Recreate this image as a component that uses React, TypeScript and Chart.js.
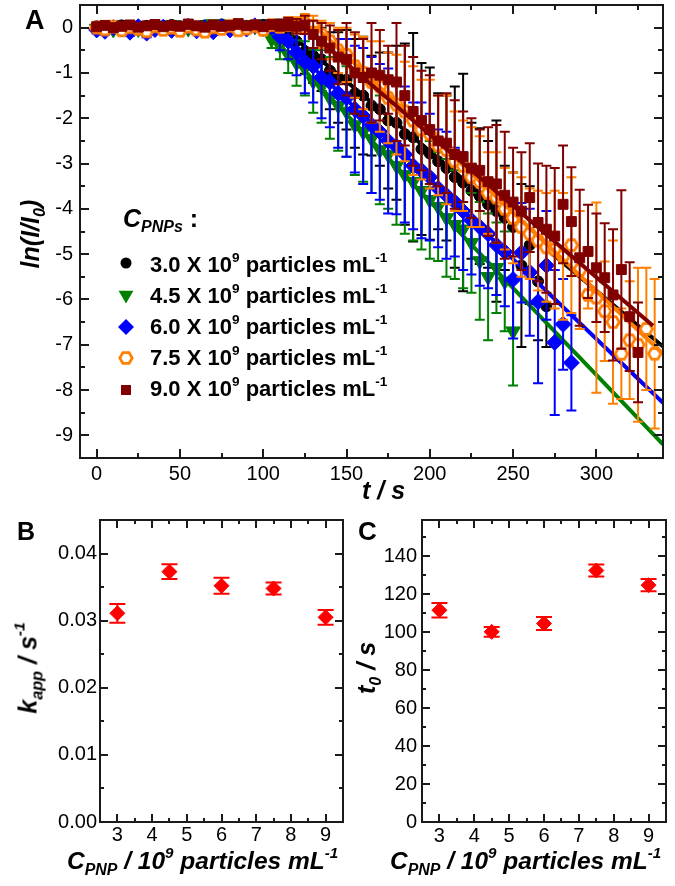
import React, { useEffect, useRef } from 'react';
import { Chart, registerables } from 'chart.js';
Chart.register(...registerables);

const FONT = "'Liberation Sans', Arial, Helvetica, sans-serif";

// ---------- Panel A data ----------
const times = [0,5,10,15,20,25,30,35,40,45,50,55,60,65,70,75,80,85,90,95,100,105,110,115,120,125,130,135,140,145,150,155,160,165,170,175,180,185,190,195,200,205,210,215,220,225,230,235,240,245,250,255,260,265,270,275,280,285,290,295,300,305,310,315,320,325,330,335];

const seriesNames = ['3.0', '4.5', '6.0', '7.5', '9.0'];
const seriesColors = ['#000000', '#008000', '#0000ff', '#ff8000', '#800000'];

const v30 = [0.03,-0.02,0.01,0.05,0.00,-0.03,0.04,0.02,-0.01,0.06,0.03,0.00,-0.02,0.05,0.01,0.07,0.03,-0.01,0.04,0.02,0.06,0.01,0.03,
  -0.10,-0.30,-0.52,-0.62,-0.70,-0.95,-1.10,-1.15,-1.45,-1.50,-1.72,-1.80,-2.05,-2.10,-2.35,-2.42,-2.68,-2.78,-2.95,-3.10,
  -3.30,-3.42,-3.60,-3.72,-3.90,-4.05,-4.20,-4.40,-5.25,-4.80,-5.60,-6.15];
const e30 = [0.08,0.06,0.07,0.09,0.06,0.08,0.07,0.06,0.09,0.08,0.07,0.06,0.08,0.09,0.07,0.08,0.06,0.09,0.08,0.07,0.1,0.12,0.15,
  0.25,0.35,0.5,0.6,0.7,0.85,1.0,1.1,1.2,1.3,1.1,1.25,1.5,1.7,2.0,2.3,1.9,1.9,1.5,1.6,
  2.0,2.4,1.5,1.5,1.4,2.0,1.15,1.2,1.8,1.3,1.3,0.9];

const v45 = [-0.02,0.01,-0.04,0.00,0.03,-0.03,0.02,-0.01,0.04,0.06,0.02,-0.02,0.05,0.03,0.08,0.04,0.06,0.02,0.05,0.03,0.01,
  -0.25,-0.40,-0.60,-0.78,-0.90,-1.18,-1.30,-1.55,-1.72,-1.85,-2.15,-2.30,-2.45,-2.70,-2.80,-3.05,-3.25,-3.40,-3.60,-3.80,
  -3.95,-4.20,-4.35,-4.45,-4.75,-5.15,-5.50,-5.30,-5.60,-6.70];
const e45 = [0.07,0.08,0.06,0.09,0.07,0.08,0.06,0.07,0.09,0.08,0.07,0.08,0.06,0.09,0.07,0.08,0.07,0.09,0.08,0.1,0.12,
  0.2,0.3,0.4,0.5,0.6,0.7,0.8,0.9,1.0,1.0,1.1,1.1,1.2,1.2,1.2,1.3,1.3,1.3,1.3,1.3,
  1.2,1.3,1.2,1.3,1.1,1.3,1.4,1.0,1.1,1.2];

const v60 = [-0.05,-0.08,0.00,-0.03,-0.10,0.02,-0.12,-0.04,0.01,-0.06,-0.02,0.03,-0.07,-0.01,-0.09,0.02,-0.05,0.00,-0.03,0.04,-0.02,0.01,
  -0.20,-0.30,-0.55,-0.75,-0.85,-1.10,-1.20,-1.45,-1.55,-1.80,-1.95,-2.15,-2.30,-2.50,-2.62,-2.80,-3.05,-3.15,-3.30,-3.55,
  -3.70,-3.85,-4.05,-4.25,-4.40,-4.55,-4.80,-4.95,-5.56,-4.97,-5.40,-6.05,-5.25,-6.95,-6.55,-7.40];
const e60 = [0.08,0.07,0.09,0.06,0.08,0.07,0.09,0.08,0.06,0.07,0.08,0.09,0.07,0.08,0.06,0.09,0.07,0.08,0.09,0.07,0.1,0.12,
  0.3,0.4,0.5,0.7,0.8,0.9,1.0,1.2,1.3,1.4,1.5,1.5,1.5,1.6,1.5,1.5,1.4,1.5,1.4,1.3,
  1.4,1.2,1.3,1.2,1.3,1.2,1.1,1.2,1.3,1.1,1.4,1.8,1.2,1.6,1.0,1.05];

const v75 = [0.00,-0.04,0.02,-0.06,0.01,-0.03,-0.08,0.03,-0.05,0.00,-0.07,0.02,-0.04,-0.09,0.01,-0.03,0.04,-0.06,-0.02,0.03,-0.05,0.06,0.02,0.08,0.05,0.10,0.04,
  -0.15,-0.30,-0.50,-0.60,-0.85,-1.00,-1.20,-1.30,-1.55,-1.70,-1.85,-2.05,-2.25,-2.35,-2.60,-2.70,-2.95,-3.05,-3.30,-3.40,
  -3.65,-3.75,-4.00,-4.20,-4.40,-4.55,-4.70,-4.85,-4.90,-5.05,-4.80,-5.35,-5.90,-5.96,-6.26,-6.50,-7.20,-6.90,-7.00,-6.65,-7.20];
const e75 = [0.07,0.08,0.06,0.09,0.07,0.08,0.1,0.06,0.08,0.07,0.09,0.06,0.08,0.1,0.07,0.08,0.09,0.07,0.08,0.06,0.09,0.1,0.12,0.15,0.18,0.2,0.22,
  0.3,0.4,0.5,0.6,0.7,0.8,0.9,1.0,1.0,1.1,1.1,1.2,1.1,1.2,1.1,1.2,1.1,1.0,1.1,1.0,
  0.9,1.0,0.9,1.0,1.1,1.0,1.1,1.2,1.3,1.4,1.5,1.3,0.3,2.1,1.1,1.8,1.0,1.3,1.7,1.35,1.65];

const v90 = [0.02,0.05,0.00,0.03,0.06,0.01,0.04,0.07,0.02,0.05,0.03,0.08,0.04,0.01,0.06,0.03,0.05,0.09,0.04,0.06,0.02,0.07,0.05,0.08,0.03,0.06,
  -0.15,-0.30,-0.45,-0.65,-0.70,-1.00,-1.10,-1.00,-1.05,-1.15,-1.20,-1.50,-1.85,-2.05,-2.25,-2.50,-2.55,-2.80,-2.85,-3.10,
  -3.15,-3.40,-3.45,-3.70,-3.85,-4.05,-3.75,-4.30,-4.45,-4.60,-3.90,-4.28,-5.08,-4.94,-5.30,-5.52,-5.90,-5.34,-6.38,-7.17];
const e90 = [0.06,0.08,0.07,0.09,0.06,0.08,0.07,0.09,0.06,0.08,0.07,0.09,0.08,0.06,0.07,0.09,0.08,0.07,0.06,0.09,0.08,0.1,0.12,0.14,0.16,0.2,
  0.3,0.4,0.5,0.6,0.8,0.9,0.85,1.1,1.0,0.75,1.3,1.1,1.2,1.1,1.2,1.0,1.1,1.2,1.0,1.1,
  0.9,1.2,1.3,1.4,1.2,1.3,1.2,1.3,1.4,1.5,1.3,1.2,1.5,1.03,1.2,1.2,1.45,1.75,1.2,1.1];

const seriesValues = [v30, v45, v60, v75, v90];
const seriesErrors = [e30, e45, e60, e75, e90];

// fitted lines: flat at 0 until t0, then linear down to end point
const fitStartT = [111.5, 100, 105, 132, 125];
const fitEndT = [340, 340, 340, 340, 334];
const fitEndY = [-7.04, -9.2, -8.28, -7.2, -6.58];

const xTicksA = [0, 50, 100, 150, 200, 250, 300];
const xMinorA = [25, 75, 125, 175, 225, 275, 325];
const yTicksA = [0, -1, -2, -3, -4, -5, -6, -7, -8, -9];
const yMinorA = [-0.5, -1.5, -2.5, -3.5, -4.5, -5.5, -6.5, -7.5, -8.5];

// ---------- Panels B and C data ----------
const conc = [3, 4.5, 6, 7.5, 9];
const kapp = [0.0311, 0.0373, 0.0352, 0.0348, 0.0305];
const kappErr = [0.0014, 0.0011, 0.0012, 0.0009, 0.0011];
const t0 = [111.5, 100.1, 104.5, 132.4, 124.7];
const t0Err = [3.8, 2.6, 3.4, 3.2, 3.2];

const xTicksBC = [3, 4, 5, 6, 7, 8, 9];
const xMinorBC = [3.5, 4.5, 5.5, 6.5, 7.5, 8.5];
const yTicksB = [0, 0.01, 0.02, 0.03, 0.04];
const yMinorB = [0.005, 0.015, 0.025, 0.035];
const yTicksC = [0, 20, 40, 60, 80, 100, 120, 140];
const yMinorC = [10, 30, 50, 70, 90, 110, 130, 150];

// ---------- plugins ----------
const errorBarPlugin = {
  id: 'errbars',
  beforeDatasetDraw(chart: any, args: any) {
    const ds: any = chart.data.datasets[args.index];
    if (!ds.errors) return;
    const ys = chart.scales.y;
    const ctx = chart.ctx;
    const a = chart.chartArea;
    ctx.save();
    ctx.beginPath();
    ctx.rect(a.left, a.top, a.right - a.left, a.bottom - a.top);
    ctx.clip();
    ctx.strokeStyle = ds.errColor;
    ctx.lineWidth = ds.errWidth;
    const cap = ds.errCap;
    args.meta.data.forEach((pt: any, i: number) => {
      const v = ds.data[i].y;
      const e = ds.errors[i];
      const x = pt.x;
      const y1 = ys.getPixelForValue(v + e);
      const y2 = ys.getPixelForValue(v - e);
      ctx.beginPath();
      ctx.moveTo(x, y1); ctx.lineTo(x, y2);
      ctx.moveTo(x - cap, y1); ctx.lineTo(x + cap, y1);
      ctx.moveTo(x - cap, y2); ctx.lineTo(x + cap, y2);
      ctx.stroke();
    });
    ctx.restore();
  },
};

const framePlugin = {
  id: 'frame',
  afterDatasetsDraw(chart: any, _args: any, o: any) {
    const { ctx, chartArea: a } = chart;
    const xs = chart.scales.x, ys = chart.scales.y;
    ctx.save();
    ctx.strokeStyle = o.color;
    ctx.lineWidth = o.width;
    ctx.strokeRect(a.left, a.top, a.right - a.left, a.bottom - a.top);
    ctx.beginPath();
    const xt = (vals: number[], len: number) => vals.forEach((v) => {
      const p = Math.round(xs.getPixelForValue(v));
      ctx.moveTo(p, a.bottom); ctx.lineTo(p, a.bottom - len);
      ctx.moveTo(p, a.top); ctx.lineTo(p, a.top + len);
    });
    const yt = (vals: number[], len: number) => vals.forEach((v) => {
      const p = Math.round(ys.getPixelForValue(v));
      ctx.moveTo(a.left, p); ctx.lineTo(a.left + len, p);
      ctx.moveTo(a.right, p); ctx.lineTo(a.right - len, p);
    });
    xt(o.xMajor, o.majorLen); xt(o.xMinor, o.minorLen);
    yt(o.yMajor, o.majorLen); yt(o.yMinor, o.minorLen);
    ctx.stroke();
    ctx.restore();
  },
};

function makeHexagon(color: string) {
  const c = document.createElement('canvas');
  c.width = 18; c.height = 18;
  const g = c.getContext('2d')!;
  g.beginPath();
  for (let k = 0; k < 6; k++) {
    const ang = (Math.PI / 3) * k;
    const px = 9 + 6.2 * Math.cos(ang), py = 9 + 6.2 * Math.sin(ang);
    if (k === 0) g.moveTo(px, py); else g.lineTo(px, py);
  }
  g.closePath();
  g.fillStyle = '#ffffff';
  g.fill();
  g.strokeStyle = color;
  g.lineWidth = 2.8;
  g.stroke();
  return c;
}

function scaleCommon(min: number, max: number, ticks: number[], pad: number, fmt: (v: number) => string, fit: (s: any) => void) {
  return {
    type: 'linear', min, max,
    grid: { display: false, drawTicks: false },
    border: { display: false },
    afterBuildTicks: (s: any) => { s.ticks = ticks.map((v) => ({ value: v })); },
    ticks: { font: { family: FONT, size: 20 }, color: '#000', padding: pad, maxRotation: 0, autoSkip: false, callback: (v: any) => fmt(Number(v)) },
    afterFit: (s: any) => { fit(s); s.paddingTop = 0; s.paddingBottom = 0; s.paddingLeft = 0; s.paddingRight = 0; },
  };
}

function configA(): any {
  const styles: any[] = ['circle', 'triangle', 'rectRot', makeHexagon(seriesColors[3]), 'rect'];
  const radii = [5.5, 8.5, 8, 7, 7];
  const rot = [0, 180, 0, 0, 0];
  const datasets: any[] = [];
  seriesValues.forEach((vals, i) => {
    datasets.push({
      label: seriesNames[i],
      data: vals.map((v, j) => ({ x: times[j], y: v })),
      errors: seriesErrors[i], errColor: seriesColors[i], errWidth: 2, errCap: 5,
      pointStyle: styles[i], pointRadius: radii[i], pointRotation: rot[i],
      backgroundColor: seriesColors[i], borderColor: seriesColors[i], pointBorderWidth: 1,
      showLine: false, order: 20 - 2 * i,
    });
    datasets.push({
      label: seriesNames[i] + ' fit',
      data: [{ x: times[0], y: 0 }, { x: fitStartT[i], y: 0 }, { x: fitEndT[i], y: fitEndY[i] }],
      showLine: true, pointRadius: 0, borderColor: seriesColors[i], borderWidth: 4, fill: false,
      order: 19 - 2 * i,
    });
  });
  return {
    type: 'scatter',
    data: { datasets },
    plugins: [errorBarPlugin, framePlugin],
    options: {
      animation: false, responsive: false, events: [],
      layout: { padding: { left: 0, top: 5, right: 12, bottom: 0 }, autoPadding: false },
      scales: {
        x: scaleCommon(-10, 340, xTicksA, 4, (v) => String(v), (s) => { s.height = 42; }),
        y: scaleCommon(-9.5, 0.5, yTicksA, 7, (v) => String(v), (s) => { s.width = 80; }),
      },
      plugins: {
        legend: { display: false }, tooltip: { enabled: false },
        frame: { color: '#1a1a1a', width: 2, majorLen: 9, minorLen: 5, xMajor: xTicksA, xMinor: xMinorA, yMajor: yTicksA, yMinor: yMinorA },
      },
    },
  };
}

function configBC(vals: number[], errs: number[], ymax: number, yTicks: number[], yMinor: number[], fmt: (v: number) => string, yWidth: number, yPad: number, xPad: number, right: number): any {
  return {
    type: 'scatter',
    data: {
      datasets: [{
        data: vals.map((v, i) => ({ x: conc[i], y: v })),
        errors: errs, errColor: '#ff0000', errWidth: 2, errCap: 8,
        pointStyle: 'rectRot', pointRadius: 7.5, backgroundColor: '#ff0000', borderColor: '#ff0000', pointBorderWidth: 1,
        showLine: false,
      }],
    },
    plugins: [errorBarPlugin, framePlugin],
    options: {
      animation: false, responsive: false, events: [],
      layout: { padding: { left: 0, top: 20, right, bottom: 34 }, autoPadding: false },
      scales: {
        x: scaleCommon(2.5, 9.5, xTicksBC, xPad, (v) => String(v), (s) => { s.height = 30; }),
        y: scaleCommon(0, ymax, yTicks, yPad, fmt, (s) => { s.width = yWidth; }),
      },
      plugins: {
        legend: { display: false }, tooltip: { enabled: false },
        frame: { color: '#1a1a1a', width: 2, majorLen: 8, minorLen: 4, xMajor: xTicksBC, xMinor: xMinorBC, yMajor: yTicks, yMinor },
      },
    },
  };
}

function ChartBox({ left, top, width, height, make }: { left: number; top: number; width: number; height: number; make: () => any }) {
  const ref = useRef<HTMLCanvasElement>(null);
  useEffect(() => {
    const c = new Chart(ref.current as HTMLCanvasElement, make());
    return () => c.destroy();
  }, []);
  return (
    <div style={{ position: 'absolute', left, top, width, height }}>
      <canvas ref={ref} width={width} height={height} style={{ display: 'block' }} />
    </div>
  );
}

const sup = (s: string) => <span style={{ fontSize: '0.62em', position: 'relative', top: '-0.75em' }}>{s}</span>;
const sub = (s: string) => <span style={{ fontSize: '0.65em', position: 'relative', top: '0.35em' }}>{s}</span>;

function Txt({ x, base, size, bold = true, italic = false, children }: any) {
  return (
    <div style={{ position: 'absolute', left: x, top: base - 0.8465 * size, fontSize: size, lineHeight: 1, fontWeight: bold ? 'bold' : 'normal', fontStyle: italic ? 'italic' : 'normal', whiteSpace: 'nowrap' }}>
      {children}
    </div>
  );
}

function VTxt({ cx, cy, size, children }: any) {
  return (
    <div style={{ position: 'absolute', left: cx, top: cy, fontSize: size, lineHeight: 1, fontWeight: 'bold', fontStyle: 'italic', whiteSpace: 'nowrap', transform: 'translate(-50%, -50%) rotate(-90deg)' }}>
      {children}
    </div>
  );
}

function Marker({ i }: { i: number }) {
  const c = seriesColors[i];
  let shape: any;
  if (i === 0) shape = <circle cx={9} cy={9} r={5.5} fill={c} />;
  else if (i === 1) shape = <polygon points="1.6,4.8 16.4,4.8 9,17.5" fill={c} />;
  else if (i === 2) shape = <polygon points="9,1 17,9 9,17 1,9" fill={c} />;
  else if (i === 3) {
    const pts = [0, 1, 2, 3, 4, 5].map((k) => `${9 + 6.2 * Math.cos(k * Math.PI / 3)},${9 + 6.2 * Math.sin(k * Math.PI / 3)}`).join(' ');
    shape = <polygon points={pts} fill="#fff" stroke={c} strokeWidth={2.8} />;
  } else shape = <rect x={4} y={4} width={10} height={10} fill={c} />;
  return <svg width={18} height={18} style={{ position: 'absolute', left: 117, top: 0 }}>{shape}</svg>;
}

const legendBase = [273, 304, 335, 366, 397];
const markerCenterY = [263, 295, 327, 358, 390];

export default function App() {
  return (
    <div style={{ position: 'absolute', left: 0, top: 0, width: 675, height: 886, background: '#fff', fontFamily: FONT, color: '#000', overflow: 'hidden' }}>
      <ChartBox left={0} top={0} width={675} height={500} make={configA} />
      <ChartBox left={0} top={500} width={345} height={386}
        make={() => configBC(kapp, kappErr, 0.045, yTicksB, yMinorB, (v) => v.toFixed(2), 100, 3, 1, 2)} />
      <ChartBox left={345} top={500} width={330} height={386}
        make={() => configBC(t0, t0Err, 159, yTicksC, yMinorC, (v) => String(v), 77, 5, 2, 9)} />

      {/* panel letters */}
      <Txt x={25} base={30} size={27}>A</Txt>
      <Txt x={17} base={540} size={25}>B</Txt>
      <Txt x={358} base={540} size={26}>C</Txt>

      {/* panel A titles */}
      <VTxt cx={30} cy={234} size={25}>ln(I/I{sub('0')})</VTxt>
      <Txt x={362} base={499} size={25} italic>t / s</Txt>

      {/* legend */}
      <Txt x={123} base={227} size={25}><span style={{ fontStyle: 'italic' }}>C<span style={{ fontSize: '0.64em', position: 'relative', top: '0.32em' }}>PNPs</span></span> :</Txt>
      {seriesNames.map((n, i) => (
        <div key={n}>
          <div style={{ position: 'absolute', left: 0, top: markerCenterY[i] - 9, width: 1, height: 18 }}><Marker i={i} /></div>
          <Txt x={150} base={legendBase[i]} size={22}>{n} X 10{sup('9')} particles mL{sup('-1')}</Txt>
        </div>
      ))}

      {/* panel B titles */}
      <VTxt cx={27.5} cy={668} size={25}>k{sub('app')} / s{sup('-1')}</VTxt>
      <Txt x={67} base={870} size={24.5} italic>C{sub('PNP')} / 10{sup('9')} particles mL{sup('-1')}</Txt>

      {/* panel C titles */}
      <VTxt cx={365.5} cy={668} size={25}>t{sub('0')} / s</VTxt>
      <Txt x={390} base={870} size={24.5} italic>C{sub('PNP')} / 10{sup('9')} particles mL{sup('-1')}</Txt>
    </div>
  );
}
